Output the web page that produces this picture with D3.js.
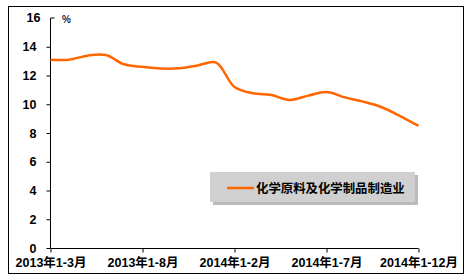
<!DOCTYPE html>
<html>
<head>
<meta charset="utf-8">
<script src="https://cdn.jsdelivr.net/npm/d3@7"></script>
<style>
  body { margin: 0; background: #fff; }
  svg { display: block; }
  text { font-family: Arial, "Liberation Sans", "Noto Sans CJK SC", sans-serif; font-weight: bold; }
</style>
</head>
<body>
<svg></svg>
<script>
const periods = ["2013年1-3月","2013年1-4月","2013年1-5月","2013年1-6月","2013年1-7月","2013年1-8月",
  "2013年1-9月","2013年1-10月","2013年1-11月","2013年1-12月","2014年1-2月","2014年1-3月",
  "2014年1-4月","2014年1-5月","2014年1-6月","2014年1-7月","2014年1-8月","2014年1-9月",
  "2014年1-10月","2014年1-11月","2014年1-12月"]
const values = [13.1, 13.1, 13.38, 13.42, 12.78, 12.6, 12.48, 12.5, 12.7, 12.9, 11.2,
  10.76, 10.64, 10.3, 10.6, 10.85, 10.48, 10.18, 9.79, 9.18, 8.49]
const tickLabels = ["2013年1-3月","2013年1-8月","2014年1-2月","2014年1-7月","2014年1-12月"]
const yTicks = [0, 2, 4, 6, 8, 10, 12, 14]
const seriesName = "化学原料及化学制品制造业"

const width = 470, height = 280

const svg = d3.select("svg")
  .attr("width", width)
  .attr("height", height)

// outer frame
svg.append("rect")
  .attr("x", 8.5).attr("y", 6.5)
  .attr("width", 455).attr("height", 267)
  .attr("fill", "#fff")
  .attr("stroke", "#000")
  .attr("stroke-width", 1)

const x_scale = d3.scalePoint()
  .domain(periods)
  .range([50.5, 418.5])

const y_scale = d3.scaleLinear()
  .domain([0, 16])
  .range([248, 18])

const yAxis = d3.axisLeft(y_scale).tickValues(yTicks).tickSize(4).tickPadding(10)
const xAxis = d3.axisBottom(x_scale).tickValues(tickLabels).tickSize(4).tickPadding(6)

const gy = svg.append("g")
  .attr("transform", "translate(50.5, 0)")
  .call(yAxis)
// top tick of the value axis points inward, like the original
gy.select(".domain").attr("stroke", "#000").attr("d", `M4,${y_scale(16)}H0V${y_scale(0)}`)
gy.selectAll("text").attr("font-size", 12.5).attr("fill", "#000")
  .style("font-family", "Arial, 'Liberation Sans', sans-serif")
gy.append("text")
  .attr("x", -10)
  .attr("y", y_scale(16))
  .attr("dy", "0.32em")
  .attr("text-anchor", "end")
  .attr("font-size", 12.5)
  .attr("fill", "#000")
  .style("font-family", "Arial, 'Liberation Sans', sans-serif")
  .text(16)

const gx = svg.append("g")
  .attr("transform", "translate(0, 248.5)")
  .call(xAxis)
gx.select(".domain").attr("stroke", "#000").attr("d", "M50.5,0H418.5")
gx.selectAll("text").attr("font-size", 12.5).attr("fill", "#000")

svg.append("text")
  .attr("x", 62)
  .attr("y", 23)
  .attr("font-size", 10)
  .attr("fill", "#1a2a4a")
  .text("%")

const line = d3.line()
  .x((d, i) => x_scale(periods[i]))
  .y(d => y_scale(d))
  .curve(d3.curveCatmullRom.alpha(0.5))

svg.append("path")
  .datum(values)
  .attr("fill", "none")
  .attr("stroke", "#ff6600")
  .attr("stroke-width", 2.5)
  .attr("d", line)

// legend
const lg = svg.append("g")
lg.append("rect")
  .attr("x", 213).attr("y", 175)
  .attr("width", 205).attr("height", 30)
  .attr("fill", "#8c8c8c")
  .attr("opacity", 0.6)
lg.append("rect")
  .attr("x", 210).attr("y", 172)
  .attr("width", 205).attr("height", 30)
  .attr("fill", "#d0d0d0")
lg.append("line")
  .attr("x1", 227).attr("x2", 254)
  .attr("y1", 188).attr("y2", 188)
  .attr("stroke", "#ff6600")
  .attr("stroke-width", 2.5)
lg.append("text")
  .attr("x", 256)
  .attr("y", 192.5)
  .attr("font-size", 12.4)
  .attr("fill", "#000")
  .style("font-family", "'Noto Sans CJK SC', sans-serif")
  .text(seriesName)
</script>
</body>
</html>
